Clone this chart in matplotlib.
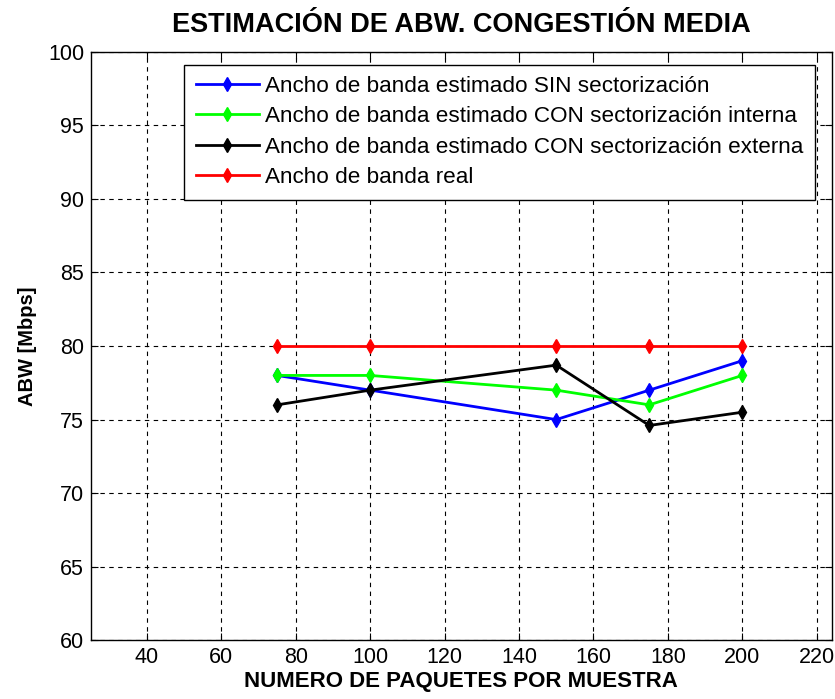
import matplotlib.pyplot as plt

plt.rcParams['font.family'] = ['Liberation Sans', 'DejaVu Sans']

paquetes = [75, 100, 150, 175, 200]
abw_sin = [78.0, 77.0, 75.0, 77.0, 79.0]
abw_interna = [78.0, 78.0, 77.0, 76.0, 78.0]
abw_externa = [76.0, 77.0, 78.7, 74.6, 75.5]
abw_real = [80, 80, 80, 80, 80]

series = [
    ('Ancho de banda estimado SIN sectorización', abw_sin, '#0000ff'),
    ('Ancho de banda estimado CON sectorización interna', abw_interna, '#00ff00'),
    ('Ancho de banda estimado CON sectorización externa', abw_externa, '#000000'),
    ('Ancho de banda real', abw_real, '#ff0000'),
]

fig = plt.figure(figsize=(8.35, 6.99), dpi=100)
ax = fig.add_axes([0.109, 0.084, 0.887, 0.842])

for label, vals, color in series:
    ax.plot(paquetes, vals, '-d', color=color, lw=2, ms=7, label=label)

ax.set_xlim(25, 224)
ax.set_ylim(60, 100)
ax.set_xticks(range(40, 221, 20))
ax.set_yticks(range(60, 101, 5))
ax.grid(True, color='black', linestyle=(0, (4, 4)), linewidth=0.8)
ax.tick_params(direction='in', top=True, right=True, labelsize=15.5, length=5, pad=5)
for s in ax.spines.values():
    s.set_linewidth(1)

ax.set_title('ESTIMACIÓN DE ABW. CONGESTIÓN MEDIA', fontsize=19.5, fontweight='bold', pad=14)
ax.set_xlabel('NUMERO DE PAQUETES POR MUESTRA', fontsize=16, fontweight='bold', labelpad=2)
ax.set_ylabel('ABW [Mbps]', fontsize=14.5, fontweight='bold', labelpad=8)

leg = ax.legend(loc='upper left', fontsize=16.2, fancybox=False, edgecolor='black',
                framealpha=1, handlelength=2.8, handletextpad=0.3, borderpad=0.5,
                labelspacing=0.42, borderaxespad=0, bbox_to_anchor=(0.126, 0.978))
leg.get_frame().set_linewidth(1)

fig.savefig('out.png', dpi=100, facecolor='white')
